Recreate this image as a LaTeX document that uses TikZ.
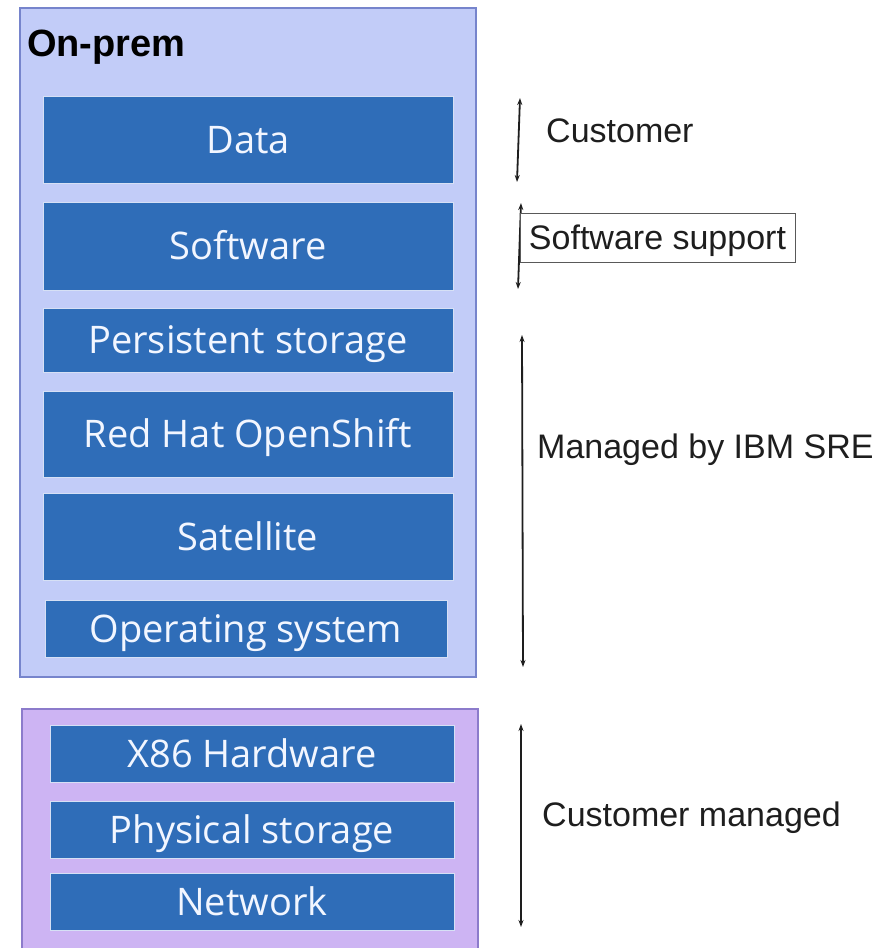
\documentclass[tikz,border=0pt]{standalone}
\usepackage{fontspec}
\setmainfont{Liberation Sans}
\newfontfamily\boxfont{Open Sans}
\usetikzlibrary{arrows.meta}
\definecolor{onpremfill}{HTML}{C2CCF8}
\definecolor{onpremedge}{HTML}{7684CC}
\definecolor{hwfill}{HTML}{CDB4F3}
\definecolor{hwedge}{HTML}{8C7BCB}
\definecolor{blkfill}{HTML}{2F6DB8}
\definecolor{blkedge}{HTML}{D6E0F5}
\definecolor{blktext}{HTML}{F2F6FF}
\definecolor{inkc}{HTML}{1E1E1E}
\tikzset{
  blk/.style={rectangle, fill=blkfill, draw=blkedge, line width=1pt, text=blktext,
    font=\boxfont\fontsize{38}{44}\selectfont, inner sep=0pt, text height=27.1pt, text depth=0pt},
  group/.style={rectangle, line width=1.2pt, inner sep=0pt},
  lbl/.style={anchor=west, inner sep=0pt, text=inkc, font=\fontsize{34}{40}\selectfont, text height=24.3pt, text depth=0pt},
  span/.style={{Stealth[length=7pt,width=5pt]}-{Stealth[length=7pt,width=5pt]}, line width=1.8pt, draw=inkc}
}
\begin{document}
\begin{tikzpicture}[x=1pt,y=-1pt]
\useasboundingbox (0,0) rectangle (891,948);
\fill[white] (0,0) rectangle (891,948);
% groups
\node[group, fill=onpremfill, draw=onpremedge, minimum width=456, minimum height=669] (onprem) at (248,342.5) {};
\node[group, fill=hwfill, draw=hwedge, minimum width=456, minimum height=250] (hw) at (250,834) {};
\node[anchor=west, inner sep=0pt, font=\bfseries\fontsize{38}{44}\selectfont, text=black, text height=27.2pt, text depth=0pt] (title) at (27,42.5) {On-prem};
% blocks
\node[blk, minimum width=410, minimum height=87] (data) at (248,139.5) {Data};
\node[blk, minimum width=410, minimum height=88] (sw) at (248,246) {Software};
\node[blk, minimum width=410, minimum height=64] (ps) at (248,340) {Persistent storage};
\node[blk, minimum width=410, minimum height=86] (rh) at (248,434) {Red Hat OpenShift};
\node[blk, minimum width=410, minimum height=87] (sat) at (248,536.5) {Satellite};
\node[blk, minimum width=402, minimum height=57] (os) at (246,628.5) {Operating system};
\node[blk, minimum width=404, minimum height=57] (x86) at (252,753.5) {X86 Hardware};
\node[blk, minimum width=404, minimum height=57] (phys) at (252,829.5) {Physical storage};
\node[blk, minimum width=404, minimum height=57] (net) at (252,901.5) {Network};
% arrow ends
\coordinate (a1t) at (520,98);
\coordinate (a1b) at (517,182);
\coordinate (a2t) at (521,203);
\coordinate (a2b) at (518,289);
\coordinate (a3t) at (522,335);
\coordinate (a3b) at (523,667);
\coordinate (a4t) at (521,724);
\coordinate (a4b) at (521,927);
\draw[span] (a1t) -- (a1b);
\draw[span] (a2t) -- (a2b);
\draw[span] (a3t) -- (a3b);
\draw[span] (a4t) -- (a4b);
% labels
\node[lbl] (lcust) at (546,130) {Customer};
\node[draw=gray!70!black, line width=0.8pt, fill=white, inner sep=0pt, text=inkc,
  font=\fontsize{34}{40}\selectfont, text height=24.3pt, text depth=0pt, minimum width=275, minimum height=49] (lsw) at (657.5,237.5) {Software support};
\node[lbl] (lsre) at (537,446) {Managed by IBM SRE};
\node[lbl] (lcm) at (542,814) {Customer managed};
\end{tikzpicture}
\end{document}
